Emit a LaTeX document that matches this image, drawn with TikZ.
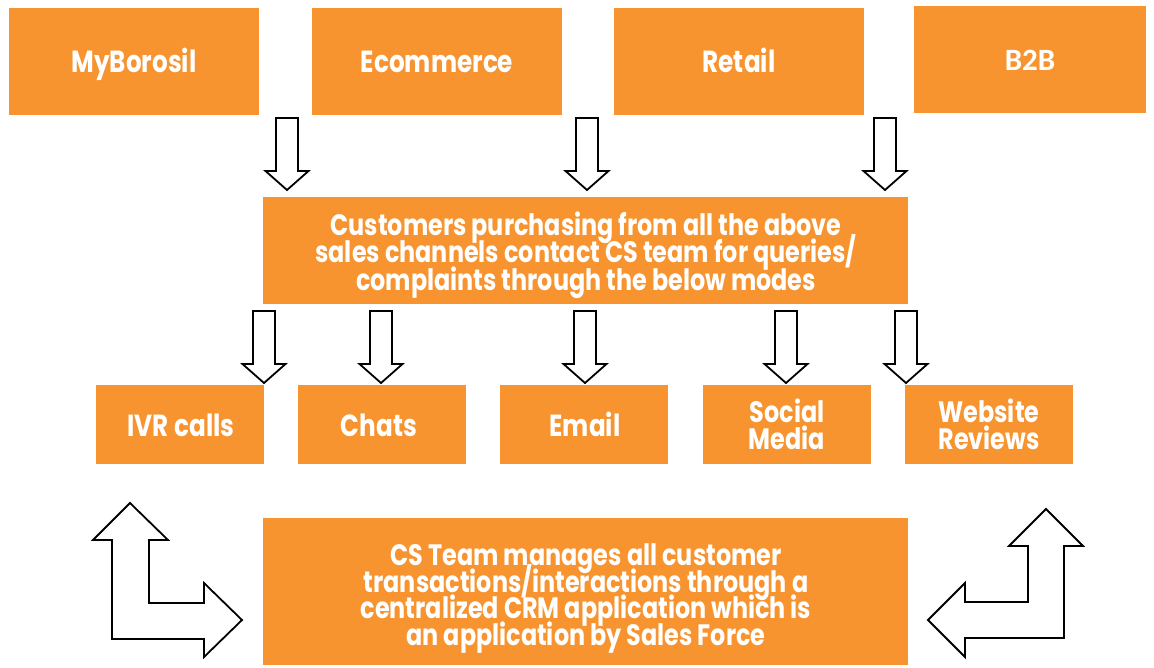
\documentclass[tikz,border=0pt]{standalone}
\usepackage{fontspec}
\newfontfamily\pf{Poppins}[FakeStretch=0.81]
\newfontfamily\cf{Carlito}
\newcommand\Ls{\rule[-0.3em]{0pt}{1.15em}}
\newcommand\NoLs{\lineskiplimit=-1000pt\relax}
\newcommand\fsA{\pf\bfseries\fontsize{30.5}{28}\selectfont\NoLs}
\newcommand\fsB{\pf\bfseries\fontsize{29.5}{27.8}\selectfont\NoLs}
\newcommand\fsC{\pf\bfseries\fontsize{29.5}{26.3}\selectfont\NoLs}
\newcommand\fsD{\pf\bfseries\fontsize{29.5}{26.4}\selectfont\NoLs}
\newcommand\fsE{\cf\bfseries\fontsize{31}{32}\selectfont\NoLs}
\definecolor{borange}{RGB}{247,148,47}
\tikzset{
  box/.style={fill=borange, draw=none, inner sep=0pt},
  lbl/.style={inner sep=0pt, text=white, align=center},
  topbox/.style={box, minimum width=250pt, minimum height=107pt},
  modebox/.style={box, minimum width=168pt, minimum height=79pt},
  blockarrow/.style={draw=black, line width=1.8pt, fill=white, line join=miter},
  pics/downarrow/.style={code={
    \draw[blockarrow] (-11,0) -- (11,0) -- (11,53) -- (21.5,53) -- (0,72) -- (-21.5,53) -- (-11,53) -- cycle;
  }}
}
\begin{document}
\begin{tikzpicture}[x=1pt,y=-1pt]
\useasboundingbox (0,0) rectangle (1154,667);
% top channel boxes
\node[topbox] (mb) at (134,61.5) {};
\node[topbox] (ec) at (437,61.5) {};
\node[topbox] (rt) at (739,61.5) {};
\node[topbox, minimum width=232pt] (b2b) at (1030,59) {};
\node[lbl, font=\fsA] (mbT) at (134,64.6) {\Ls MyBorosil};
\node[lbl, font=\fsA] (ecT) at (437,64.6) {\Ls Ecommerce};
\node[lbl, font=\fsA] (rtT) at (739,64.6) {\Ls Retail};
\node[lbl, font=\fsE] (b2bT) at (1030,62.2) {\Ls B2B};
% middle box
\node[box, minimum width=645pt, minimum height=107pt] (cust) at (585.5,250.5) {};
\node[lbl, font=\fsB] (custT) at (586,254.8) {\Ls Customers purchasing from all the above\\\Ls sales channels contact CS team for queries/\\\Ls complaints through the below modes};
% modes
\node[modebox] (ivr) at (180,424.5) {};
\node[modebox] (chat) at (382,424.5) {};
\node[modebox] (mail) at (584,424.5) {};
\node[modebox] (soc) at (787,424.5) {};
\node[modebox] (web) at (989,424.5) {};
\node[lbl, font=\fsA] (ivrT) at (181,428.3) {\Ls IVR calls};
\node[lbl, font=\fsA] (chatT) at (379,428.3) {\Ls Chats};
\node[lbl, font=\fsA] (mailT) at (585,428.3) {\Ls Email};
\node[lbl, font=\fsC] (socT) at (787,428) {\Ls Social\\\Ls Media};
\node[lbl, font=\fsC] (webT) at (989,428) {\Ls Website\\\Ls Reviews};
% bottom box
\node[box, minimum width=645pt, minimum height=147pt] (crm) at (585.5,591.5) {};
\node[lbl, font=\fsD] (crmT) at (586,597.3) {\Ls CS Team manages all customer\\\Ls transactions/interactions through a\\\Ls centralized CRM application which is\\\Ls an application by Sales Force};
% down arrows
\pic at (287,118) {downarrow};
\pic at (587,118) {downarrow};
\pic at (885,118) {downarrow};
\pic at (264,311) {downarrow};
\pic at (381,311) {downarrow};
\pic at (585,311) {downarrow};
\pic at (786,311) {downarrow};
\pic at (906,311) {downarrow};
% bent arrows
\draw[blockarrow] (130,503) -- (168,540) -- (149,540) -- (149,603) -- (204,603) -- (204,583) -- (242,620) -- (204,657) -- (204,639) -- (112,639) -- (112,540) -- (93,540) -- cycle;
\draw[blockarrow] (1046,509) -- (1083,546) -- (1064,546) -- (1064,638) -- (965,638) -- (965,657) -- (928,620) -- (965,583) -- (965,602) -- (1028,602) -- (1028,546) -- (1009,546) -- cycle;
\end{tikzpicture}
\end{document}
